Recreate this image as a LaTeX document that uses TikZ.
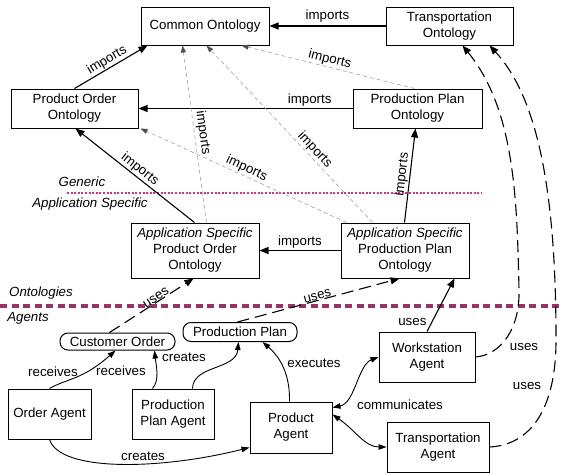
\documentclass[tikz,border=0pt]{standalone}
\usepackage{fontspec}
\setmainfont{Liberation Sans}
\usetikzlibrary{arrows.meta}
\definecolor{layerline}{HTML}{993366}
\definecolor{genericline}{HTML}{CC3380}
\definecolor{weakimport}{HTML}{A0A0A0}
\begin{document}
\begin{tikzpicture}[x=1pt,y=-1pt,
  every node/.style={font=\fontsize{13.3}{16}\selectfont, inner sep=0pt, align=center},
  box/.style={draw, line width=1pt, fill=white},
  pill/.style={draw, line width=1pt, rounded corners=8pt, fill=white},
  layer/.style={font=\fontsize{13.3}{16}\selectfont\itshape},
  imp/.style={line width=1.1pt, -{Triangle[length=9pt,width=7pt]}},
  weak/.style={draw=weakimport, line width=0.6pt, dash pattern=on 4pt off 3pt,
    -{Triangle[length=7pt,width=5pt,color=black!70,fill=black!70]}},
  use/.style={line width=1.1pt, dash pattern=on 12pt off 6pt, -{Triangle[length=9pt,width=7pt]}},
  rel/.style={line width=0.9pt, -{Triangle[length=8pt,width=5.5pt]}},
  rel2/.style={line width=0.9pt, {Triangle[length=8pt,width=5.5pt]}-{Triangle[length=8pt,width=5.5pt]}},
]
\useasboundingbox (0,0) rectangle (561,474);

% layer separators
\draw[genericline, line width=1.3pt, dash pattern=on 2pt off 1.6pt] (67,193) -- (482,193);
\draw[layerline, line width=3.6pt, dash pattern=on 7pt off 4.5pt] (0,306) -- (561,306);
\node[layer] (lgeneric) at (82,182) {Generic};
\node[layer] (lappspec) at (90,204) {Application Specific};
\node[layer] (lonto) at (41,293) {Ontologies};
\node[layer] (lagents) at (28,318) {Agents};

% ontologies
\node[box, minimum width=128pt, minimum height=38pt] (common) at (205,26) {Common Ontology};
\node[box, minimum width=127pt, minimum height=38pt] (trOnt) at (449.5,26) {Transportation\\Ontology};
\node[box, minimum width=127pt, minimum height=39pt] (poOnt) at (74.5,108.5) {Product Order\\Ontology};
\node[box, minimum width=129pt, minimum height=39pt] (ppOnt) at (417.5,108.5) {Production Plan\\Ontology};
\node[box, minimum width=128pt, minimum height=55pt] (asPO) at (195,250.5) {\textit{Application Specific}\\Product Order\\Ontology};
\node[box, minimum width=128pt, minimum height=55pt] (asPP) at (405,250.5) {\textit{Application Specific}\\Production Plan\\Ontology};

% agents and their artefacts
\node[pill, minimum width=115pt, minimum height=17pt] (custOrder) at (117.5,341.5) {Customer Order};
\node[pill, minimum width=114pt, minimum height=19pt] (prodPlan) at (240,332) {Production Plan};
\node[box, minimum width=83pt, minimum height=50pt] (orderAgent) at (49.5,414) {Order Agent};
\node[box, minimum width=82pt, minimum height=50pt] (ppAgent) at (173,414) {Production\\Plan Agent};
\node[box, minimum width=82pt, minimum height=51pt] (productAgent) at (291,427.5) {Product\\Agent};
\node[box, minimum width=96pt, minimum height=50pt] (wsAgent) at (427,357) {Workstation\\Agent};
\node[box, minimum width=102pt, minimum height=50pt] (trAgent) at (438,447) {Transportation\\Agent};

% imports between ontologies
\draw[imp] (trOnt.west) -- (common.east) node[midway, above=3pt] {imports};
\draw[imp] (poOnt.north) -- ([xshift=7pt]common.south west) node[midway, sloped, above=1pt] {imports};
\draw[imp] (ppOnt.west) -- (poOnt.east) node[pos=0.2, above=2pt] {imports};
\draw[weak] ([xshift=62pt]ppOnt.north west) -- ([xshift=101pt]common.south west)
  node[pos=0.5, sloped, above=1pt] {imports};
\draw[weak] ([xshift=76pt]asPO.north west) -- ([xshift=42pt]common.south west)
  node[pos=0.5, sloped, above=2pt] {imports};
\draw[weak] ([xshift=6pt]asPP.north west) -- ([xshift=2pt]poOnt.south east)
  node[pos=0.5, sloped, above=1pt] {imports};
\draw[weak] ([xshift=32pt]asPP.north west) -- ([xshift=66pt]common.south west)
  node[pos=0.38, sloped, above=1pt] {imports};
\draw[imp] ([xshift=64pt]asPP.north west) -- ([xshift=63pt]ppOnt.south west)
  node[pos=0.5, sloped, above=1pt] {imports};
\draw[imp] ([xshift=64pt]asPO.north west) -- ([xshift=65pt]poOnt.south west)
  node[pos=0.5, sloped, above=1pt] {imports};
\draw[imp] (asPP.west) -- (asPO.east) node[midway, above=2pt] {imports};

% agents using ontologies
\draw[use] ([xshift=50pt]custOrder.north west) -- ([xshift=63pt]asPO.south west)
  node[pos=0.58, sloped, above=0pt] {uses};
\draw[use] ([xshift=55pt]prodPlan.north west) -- ([xshift=59pt]asPP.south west)
  node[pos=0.5, sloped, above=0pt] {uses};
\draw[imp] (wsAgent.north) -- ([xshift=114pt]asPP.south west)
  node[pos=0.18, left=5pt] {uses};
\draw[use] (wsAgent.east) .. controls (500,355) and (520,330) .. (519,290)
  .. controls (517,200) and (515,110) .. ([xshift=77pt]trOnt.south west);
\node (lws) at (524,347) {uses};
\draw[use] (trAgent.east) .. controls (530,445) and (556,410) .. (556,340)
  .. controls (556,200) and (540,100) .. ([xshift=104pt]trOnt.south west);
\node (ltr) at (527,386) {uses};

% relations between agents
\draw[rel] ([xshift=42pt]orderAgent.north west) .. controls (68,378) and (82,380) .. ([xshift=56pt]custOrder.south west);
\node (lrec1) at (53,372) {receives};
\node (lrec2) at (121,371) {receives};
\draw[rel] ([xshift=21pt]ppAgent.north west) .. controls (160,380) and (156,365) .. ([xshift=95pt]custOrder.south west);
\node (lcre1) at (184,357) {creates};
\draw[rel] ([xshift=61pt]ppAgent.north west) .. controls (193,365) and (236,370) .. ([xshift=56pt]prodPlan.south west);
\draw[rel] ([xshift=40pt]productAgent.north west) .. controls (290,375) and (281,358) .. ([xshift=80pt]prodPlan.south west);
\node (lexec) at (314,363) {executes};
\draw[rel] ([xshift=42pt]orderAgent.south west) .. controls (60,472) and (160,470) .. ([yshift=6pt]productAgent.south west);
\node (lcre2) at (143,456) {creates};
\draw[rel2] ([yshift=-6pt]productAgent.north east) .. controls (355,403) and (358,365) .. (wsAgent.west);
\node (lcomm) at (400,405) {communicates};
\draw[rel2] ([yshift=-13pt]productAgent.north east) .. controls (355,430) and (365,447) .. (trAgent.west);
\end{tikzpicture}
\end{document}
